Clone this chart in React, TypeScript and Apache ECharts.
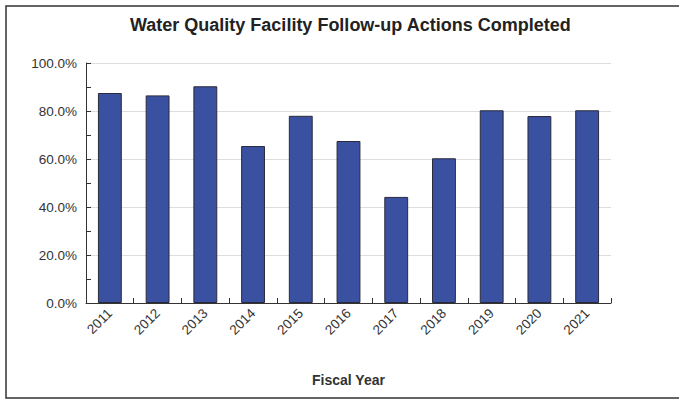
import React, { useEffect, useRef } from "react";
import * as echarts from "echarts";

const categories = ["2011", "2012", "2013", "2014", "2015", "2016", "2017", "2018", "2019", "2020", "2021"];
const completedPct = [87.5, 86.5, 90.3, 65.4, 78.0, 67.5, 44.2, 60.3, 80.3, 77.9, 80.3];
const titleText = "Water Quality Facility Follow-up Actions Completed";
const xAxisName = "Fiscal Year";

export default function App() {
  const ref = useRef<HTMLDivElement>(null);
  useEffect(() => {
    if (!ref.current) return;
    const chart = echarts.init(ref.current, null, { renderer: "svg" });
    const font = "Liberation Sans, Arial, sans-serif";
    chart.setOption({
      animation: false,
      backgroundColor: "#fff",
      title: {
        text: titleText,
        left: 125,
        top: 11,
        textStyle: { fontFamily: font, fontSize: 18, fontWeight: "bold", color: "#222" },
      },
      graphic: [
        {
          type: "rect",
          shape: { x: 6, y: 6, width: 700, height: 392 },
          style: { fill: "none", stroke: "#333", lineWidth: 1.5 },
          silent: true,
          z: 100,
        },
      ],
      grid: { left: 86, right: 68, top: 63, bottom: 97 },
      xAxis: {
        type: "category",
        data: categories,
        name: xAxisName,
        nameLocation: "middle",
        nameGap: 70,
        nameTextStyle: { fontFamily: font, fontSize: 14, fontWeight: "bold", color: "#333" },
        axisLine: { lineStyle: { color: "#333", width: 1 } },
        axisTick: { show: true, inside: true, length: 5, alignWithLabel: false, lineStyle: { color: "#333" } },
        axisLabel: { rotate: 45, fontFamily: font, fontSize: 13.5, color: "#333", margin: 8 },
      },
      yAxis: {
        type: "value",
        min: 0,
        max: 100,
        interval: 20,
        axisLine: { show: true, lineStyle: { color: "#333", width: 1 } },
        axisTick: { show: true, inside: true, length: 5, lineStyle: { color: "#333" } },
        minorTick: { show: true, splitNumber: 2, length: 5, lineStyle: { color: "#333" } },
        splitLine: { show: true, lineStyle: { color: "#ddd", width: 1 } },
        axisLabel: {
          fontFamily: font,
          fontSize: 13.5,
          color: "#333",
          margin: 9,
          formatter: (v: number) => v.toFixed(1) + "%",
        },
      },
      series: [
        {
          type: "bar",
          data: completedPct,
          barWidth: "50%",
          itemStyle: { color: "#3a51a1", borderColor: "#2a2a3a", borderWidth: 1 },
        },
      ],
    });
    return () => chart.dispose();
  }, []);
  return (
    <div
      ref={ref}
      style={{ position: "absolute", left: 0, top: 0, width: 679, height: 400 }}
    />
  );
}
